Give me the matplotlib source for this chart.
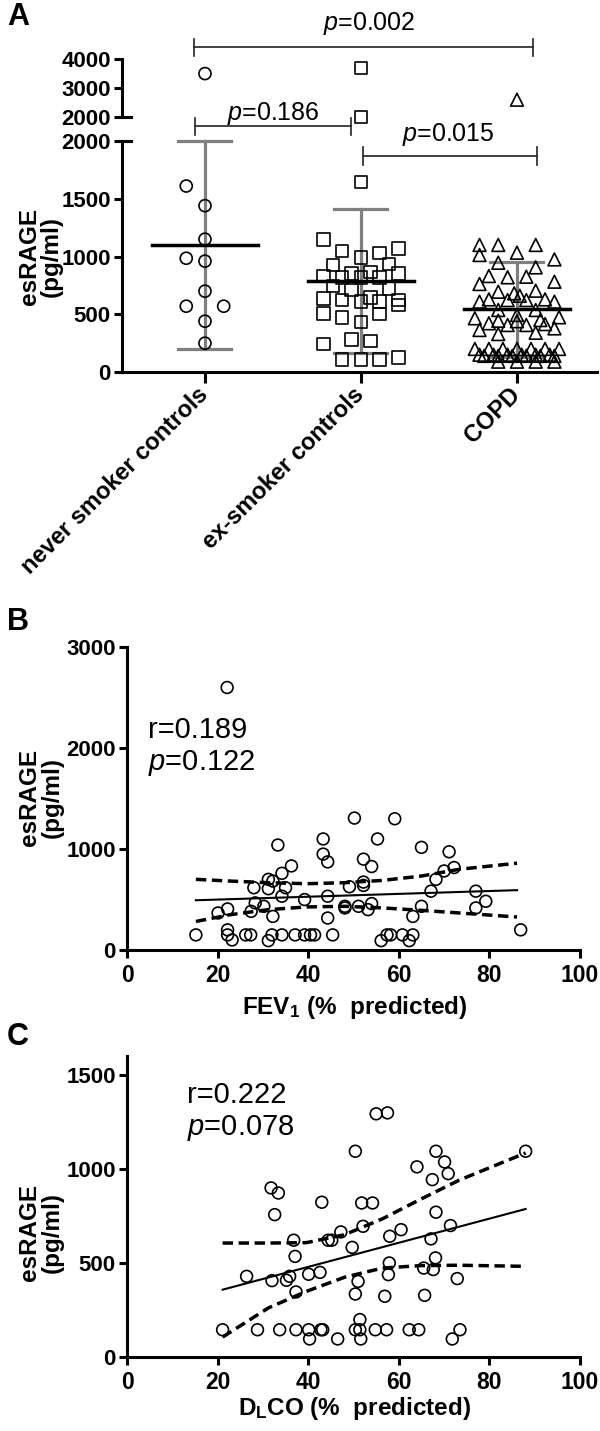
import numpy as np
import matplotlib
matplotlib.use('Agg')
import matplotlib.pyplot as plt

plt.rcParams['font.family'] = ['Liberation Sans', 'DejaVu Sans']
plt.rcParams['font.weight'] = 'bold'
plt.rcParams['axes.labelweight'] = 'bold'
plt.rcParams['mathtext.fontset'] = 'custom'
plt.rcParams['mathtext.rm'] = 'Liberation Sans:weight=normal'
plt.rcParams['mathtext.it'] = 'Liberation Sans:style=italic:weight=normal'
plt.rcParams['mathtext.bf'] = 'Liberation Sans:weight=bold'

####################################################
## Panel A: esRAGE per group (values + jitter slot)

groups = ['never smoker controls', 'ex-smoker controls', 'COPD']

never_vals = [3500, 1610, 1440, 1150, 985, 960, 700, 570, 570, 440, 250]
never_slot = [0, -2, 0, 0, -2, 0, 0, -2, 2, 0, 0]

ex_vals = [3700, 2000, 1645,
           1149, 1050, 993, 1028, 1071, 926, 935, 831, 820, 854, 820, 868, 820, 854,
           745, 710, 724, 638, 623, 609, 647, 609, 623, 580, 508, 473, 435, 502,
           242, 283, 271, 110, 110, 110, 127]
ex_slot = [0, 0, 0,
           -4, -2, 0, 2, 4, -3, 3, -4, -2, -1, 0, 1, 2, 4,
           -3, -1, 3, -4, -2, 0, 1, 2, 4, 4, -4, -2, 0, 2,
           -4, -1, 1, -2, 0, 2, 4]

copd_vals = [2600,
             1100, 1100, 1100, 1033, 1013, 946, 975, 906, 831, 820, 825, 762, 782,
             695, 704, 681, 660, 629, 623, 623, 609, 629, 609,
             537, 537, 494, 465, 422, 444, 407, 407, 450, 415, 474, 364, 329, 340, 378, 440,
             200, 200, 200, 200, 200, 200, 200,
             150, 150, 150, 150, 150, 150,
             140, 140, 140, 140, 140, 140,
             90, 90, 90, 90]
copd_slot = [0,
             -4, -2, 2, 0, -4, -2, 4, 2, -3, -1, 1, -4, 4,
             -2, 2, -0.3, 0.3, -3, -1, 1, -4, 3, 4,
             -2, 2, 0, -4.5, -3, -2, -1, 1, 2.5, 3, 4.5, -4, -2, 2, 4, 0,
             -4.5, -3, -1.5, 0, 1.5, 3, 4.5,
             -4, -2.5, -1, 0.5, 2, 3.5,
             -3.5, -2, -0.5, 1, 2.5, 4,
             -2, 0, 2, 4]

means = [1100, 785, 543]
sd_hi = [2000, 1410, 955]
sd_lo = [200, 165, 130]

####################################################
## Panel B: esRAGE vs FEV1

fev1_x = [15.2, 20.1, 22.2, 22.2, 22.2, 23.2, 26.2, 27.3, 28.0, 28.3, 27.4, 30.2,
          31.2, 31.2, 32.2, 32.2, 31.2, 32.0, 33.3, 34.2, 34.2, 34.2, 35.0, 36.3,
          37.1, 39.2, 39.2, 40.5, 41.4, 43.3, 43.3, 44.3, 44.3, 44.3, 45.4, 48.1,
          48.1, 49.1, 50.2, 52.2, 52.2, 52.2, 51.1, 53.2, 54.0, 54.0, 55.3, 56.1,
          57.4, 58.2, 59.1, 60.8, 62.3, 63.1, 63.1, 65.0, 65.0, 67.1, 68.2, 70.0,
          71.1, 72.2, 77.0, 77.0, 79.2, 86.9, 22.1]
fev1_y = [150, 367, 407, 200, 150, 100, 150, 150, 617, 467, 383, 433,
          700, 607, 683, 333, 93, 150, 1040, 760, 533, 150, 617, 833,
          150, 500, 150, 150, 150, 1100, 950, 873, 533, 317, 150, 433,
          417, 627, 1307, 900, 673, 640, 433, 400, 827, 460, 1100, 93,
          150, 150, 1300, 150, 93, 150, 333, 433, 1017, 583, 700, 783,
          973, 817, 583, 417, 483, 200, 2600]

fev1_fit_x = [15.2, 86.1]
fev1_fit_y = [493, 593]
fev1_ci_x = [15.2, 22.8, 31.2, 39.7, 48.1, 56.5, 65.0, 73.4, 86.1]
fev1_ci_hi = [700, 683, 667, 657, 667, 690, 733, 800, 860]
fev1_ci_lo = [283, 350, 400, 427, 433, 417, 393, 367, 327]

####################################################
## Panel C: esRAGE vs DLCO

dlco_x = [21.1, 26.4, 28.8, 31.8, 32.0, 32.6, 33.4, 33.7, 35.2, 35.9, 36.8, 37.1,
          37.3, 37.3, 40.1, 40.1, 40.3, 42.6, 43.0, 42.8, 43.2, 44.4, 45.2, 46.5,
          47.2, 49.7, 50.4, 50.4, 50.4, 51.0, 51.4, 51.4, 51.6, 51.8, 52.1, 54.2,
          54.8, 55.0, 57.3, 57.5, 56.9, 58.0, 57.9, 57.7, 60.5, 62.3, 64.0, 64.4,
          65.5, 65.7, 67.1, 67.4, 67.6, 68.1, 68.2, 68.2, 70.1, 70.9, 71.4, 71.8,
          72.9, 73.5, 88.0]
dlco_y = [145, 429, 145, 899, 406, 757, 872, 145, 408, 429, 621, 535,
          346, 145, 440, 145, 96, 450, 823, 145, 145, 621, 621, 96,
          665, 583, 335, 1094, 145, 402, 199, 145, 96, 819, 695, 819,
          145, 1293, 145, 1298, 323, 642, 500, 438, 677, 145, 1011, 145,
          473, 328, 628, 943, 465, 527, 1094, 770, 1037, 975, 699, 96,
          417, 145, 1094]

dlco_fit_x = [21.1, 88.0]
dlco_fit_y = [358, 787]
dlco_ci_x = [21.1, 31.2, 39.6, 48.0, 56.4, 64.9, 73.3, 88.0]
dlco_ci_hi = [606, 606, 608, 650, 735, 840, 940, 1085]
dlco_ci_lo = [106, 261, 349, 424, 473, 486, 488, 482]

####################################################
## figure

GRAY = '#7f7f7f'
SPW = 2.2

fig = plt.figure(figsize=(6, 14.31), dpi=100)
axA = fig.add_axes([0.2033, 0.7400, 0.7917, 0.1615])
axU = fig.add_axes([0.2033, 0.9182, 0.7917, 0.0405])
axB = fig.add_axes([0.2117, 0.3361, 0.755, 0.2117])
axC = fig.add_axes([0.2117, 0.0517, 0.755, 0.2103])


def style(ax):
    ax.spines['top'].set_visible(False)
    ax.spines['right'].set_visible(False)
    ax.spines['left'].set_linewidth(SPW)
    ax.spines['bottom'].set_linewidth(SPW)
    ax.tick_params(width=SPW, length=6, labelsize=16, pad=2)
    ax.patch.set_alpha(0)


for ax in (axA, axU, axB, axC):
    style(ax)

## panel A lower + upper segments
step = 0.06
markers = ['o', 's', '^']
msize = [75, 80, 85]
allvals = [never_vals, ex_vals, copd_vals]
allslot = [never_slot, ex_slot, copd_slot]
for i in range(3):
    v = np.array(allvals[i], dtype=float)
    x = i + step*np.array(allslot[i], dtype=float)
    lo = v < 2000
    axA.scatter(x[lo], v[lo], s=msize[i], marker=markers[i], facecolors='none',
                edgecolors='black', linewidths=1.2, zorder=3, clip_on=False)
    axU.scatter(x[~lo], v[~lo], s=msize[i], marker=markers[i], facecolors='none',
                edgecolors='black', linewidths=1.2, zorder=3, clip_on=False)
    axA.plot([i, i], [sd_lo[i], sd_hi[i]], color=GRAY, lw=2.3, zorder=2, clip_on=False)
    axA.plot([i-0.17, i+0.17], [sd_lo[i], sd_lo[i]], color=GRAY, lw=2.3, zorder=2, clip_on=False)
    axA.plot([i-0.17, i+0.17], [sd_hi[i], sd_hi[i]], color=GRAY, lw=2.3, zorder=2, clip_on=False)
    axA.plot([i-0.34, i+0.34], [means[i], means[i]], color='black', lw=2.5, zorder=4, clip_on=False)

axA.set_xlim(-0.532, 2.513)
axA.set_ylim(0, 2000)
axA.set_yticks([0, 500, 1000, 1500, 2000])
axA.set_xticks([0, 1, 2])
axA.set_xticklabels(groups, rotation=45, ha='right', va='center', rotation_mode='anchor',
                    fontsize=17)
axA.tick_params(axis='x', length=8, pad=6)
axA.set_ylabel('esRAGE\n(pg/ml)', fontsize=17.5, linespacing=0.95)
axA.yaxis.set_label_coords(-0.125, 0.5)

axU.set_xlim(-0.532, 2.513)
axU.set_ylim(2000, 4000)
axU.set_yticks([2000, 3000, 4000])
axU.spines['bottom'].set_visible(False)
axU.set_xticks([])

# axis break caps
axA.plot([0, 0.02], [2000, 2000], color='black', lw=SPW, transform=axA.get_yaxis_transform(), clip_on=False)
axU.plot([0, 0.02], [2000, 2000], color='black', lw=SPW, transform=axU.get_yaxis_transform(), clip_on=False)


def bracket(ax, x0, x1, y, h):
    kw = dict(color='#222222', lw=1.2, clip_on=False)
    ax.plot([x0, x1], [y, y], **kw)
    ax.plot([x0, x0], [y-h, y+h], **kw)
    ax.plot([x1, x1], [y-h, y+h], **kw)


bracket(axU, -0.07, 2.10, 4414, 293)
axU.text(1.05, 5241, '$p$=0.002', ha='center', va='center', fontsize=18, fontweight='normal')
bracket(axU, -0.064, 0.936, 1690, 293)
axU.text(0.436, 2138, '$p$=0.186', ha='center', va='center', fontsize=18, fontweight='normal')
bracket(axA, 1.013, 2.128, 1870, 74)
axA.text(1.558, 2052, '$p$=0.015', ha='center', va='center', fontsize=18, fontweight='normal')

## panel B
axB.scatter(fev1_x, fev1_y, s=72, marker='o', facecolors='none', edgecolors='black',
            linewidths=1.2, zorder=3, clip_on=False)
axB.plot(fev1_fit_x, fev1_fit_y, color='black', lw=1.5)
axB.plot(fev1_ci_x, fev1_ci_hi, color='black', lw=2.5, ls=(0, (3, 1.6)))
axB.plot(fev1_ci_x, fev1_ci_lo, color='black', lw=2.5, ls=(0, (3, 1.6)))
axB.set_xlim(0, 100)
axB.set_ylim(0, 3000)
axB.set_xticks([0, 20, 40, 60, 80, 100])
axB.set_yticks([0, 1000, 2000, 3000])
axB.tick_params(axis='x', labelsize=16.5, length=6, pad=4)
axB.set_xlabel(r'FEV$_\mathbf{1}$ (%  predicted)', fontsize=17.5)
axB.xaxis.set_label_coords(0.502, -0.145)
axB.set_ylabel('esRAGE\n(pg/ml)', fontsize=17.5, linespacing=0.95)
axB.yaxis.set_label_coords(-0.14, 0.505)
axB.text(4.6, 2178, 'r=0.189', ha='left', va='center', fontsize=21, fontweight='normal')
axB.text(4.6, 1851, '$p$=0.122', ha='left', va='center', fontsize=21, fontweight='normal')

## panel C
axC.scatter(dlco_x, dlco_y, s=72, marker='o', facecolors='none', edgecolors='black',
            linewidths=1.2, zorder=3, clip_on=False)
axC.plot(dlco_fit_x, dlco_fit_y, color='black', lw=1.5)
axC.plot(dlco_ci_x, dlco_ci_hi, color='black', lw=2.5, ls=(0, (3, 1.6)))
axC.plot(dlco_ci_x, dlco_ci_lo, color='black', lw=2.5, ls=(0, (3, 1.6)))
axC.set_xlim(0, 100)
axC.set_ylim(0, 1600)
axC.set_xticks([0, 20, 40, 60, 80, 100])
axC.set_yticks([0, 500, 1000, 1500])
axC.tick_params(axis='x', labelsize=16.5, length=6, pad=4)
axC.set_xlabel(r'D$_\mathbf{L}$CO (%  predicted)', fontsize=17.5)
axC.xaxis.set_label_coords(0.502, -0.125)
axC.set_ylabel('esRAGE\n(pg/ml)', fontsize=17.5, linespacing=0.95)
axC.yaxis.set_label_coords(-0.14, 0.415)
axC.text(13.2, 1394, 'r=0.222', ha='left', va='center', fontsize=21, fontweight='normal')
axC.text(13.2, 1218, '$p$=0.078', ha='left', va='center', fontsize=21, fontweight='normal')

## panel letters
fig.text(0.03, 0.988, 'A', fontsize=22, ha='center', va='center')
fig.text(0.03, 1 - 622/1431, 'B', fontsize=22, ha='center', va='center')
fig.text(0.03, 1 - 1037/1431, 'C', fontsize=22, ha='center', va='center')

fig.savefig('out.png', dpi=100)
